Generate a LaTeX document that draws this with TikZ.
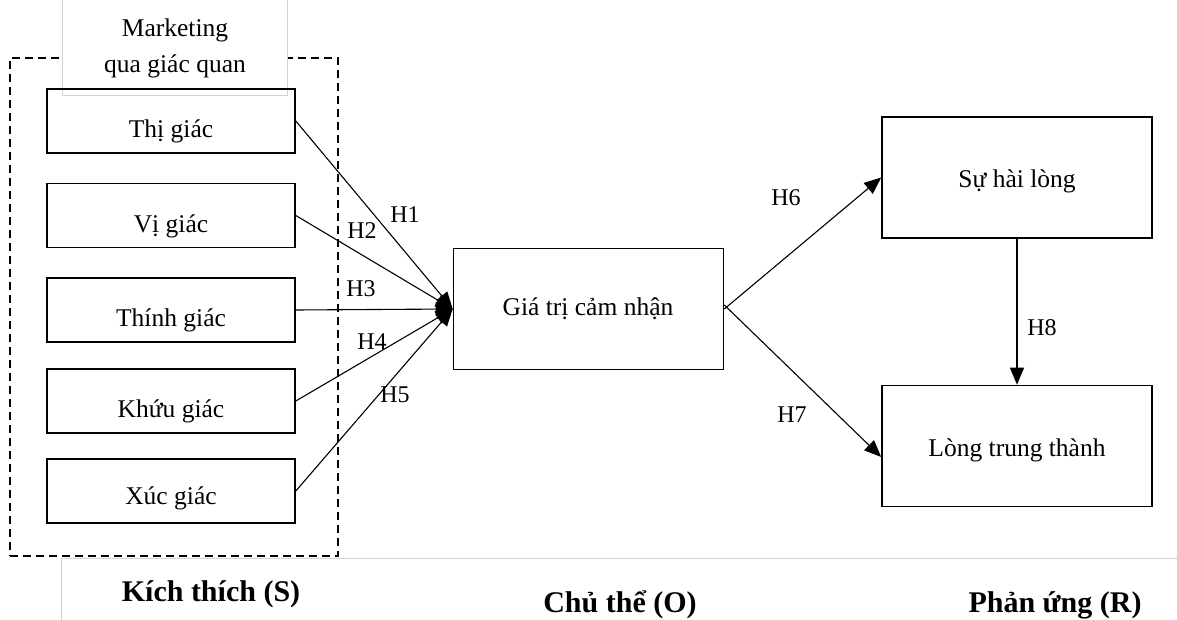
\documentclass[tikz,border=0pt]{standalone}
\usepackage{fontspec}
\setmainfont{Liberation Serif}
\usetikzlibrary{arrows.meta}
\tikzset{
  box/.style={draw, line width=1.6pt, inner sep=0pt},
  sense/.style={box, minimum width=248pt, minimum height=64pt},
  big/.style={box, minimum width=270pt, minimum height=121pt},
  txt/.style={inner sep=0pt, font=\fontsize{25.5}{36}\selectfont},
  hyp/.style={inner sep=0pt, font=\fontsize{24}{28}\selectfont},
  head/.style={inner sep=0pt, font=\fontsize{30}{34}\selectfont\bfseries},
  link/.style={line width=1.1pt, -{Triangle[length=17pt,width=14pt]}},
  frame/.style={draw, dashed, dash pattern=on 8pt off 5pt, line width=1.4pt, inner sep=0pt},
  faint/.style={draw=black!18, line width=0.8pt}
}
\begin{document}
\begin{tikzpicture}[x=1pt,y=-1pt]
\useasboundingbox[fill=white] (0,0) rectangle (1177,620);

% group of sensory stimuli
\node[frame, minimum width=328pt, minimum height=498pt] (grp) at (174,307) {};

% caption box of the group
\node[faint, fill=white, minimum width=225pt, minimum height=100pt, inner sep=0pt] (cap) at (174.5,45) {};
\node[txt, align=center] (captxt) at (175,48) {Marketing\\qua giác quan};

% senses
\node[sense] (thi)   at (171,121) {};
\node[sense] (vi)    at (171,215.5) {};
\node[sense] (thinh) at (171,310) {};
\node[sense] (khuu)  at (171,401) {};
\node[sense] (xuc)   at (171,491) {};
\node[txt] (thit)   at (171,131) {Thị giác};
\node[txt] (vit)    at (171,226) {Vị giác};
\node[txt] (thinht) at (171,320) {Thính giác};
\node[txt] (khuut)  at (171,411) {Khứu giác};
\node[txt] (xuct)   at (171,498) {Xúc giác};

% organism and responses
\node[big] (gt) at (588.5,309) {};
\node[txt] (gtt) at (588,309) {Giá trị cảm nhận};
\node[big] (sh) at (1017,177.5) {};
\node[txt] (sht) at (1017,181) {Sự hài lòng};
\node[big] (lt) at (1017,446) {};
\node[txt] (ltt) at (1017,450) {Lòng trung thành};

% hypotheses
\draw[link] (thi.east)   -- (gt.west);
\draw[link] (vi.east)    -- (gt.west);
\draw[link] (thinh.east) -- (gt.west);
\draw[link] (khuu.east)  -- (gt.west);
\draw[link] (xuc.east)   -- (gt.west);
\draw[link] (gt.east) -- (sh.west);
\draw[link] ([yshift=4pt]gt.east) -- ([yshift=-11pt]lt.west);
\draw[link] (sh.south) -- (lt.north);

\node[hyp] (h1) at (405,215) {H1};
\node[hyp] (h2) at (362,231) {H2};
\node[hyp] (h3) at (361,289) {H3};
\node[hyp] (h4) at (372,342) {H4};
\node[hyp] (h5) at (395,395) {H5};
\node[hyp] (h6) at (786,198) {H6};
\node[hyp] (h7) at (792,415) {H7};
\node[hyp] (h8) at (1042,328) {H8};

% stage headings
\draw[faint] (61,620) -- (61,558) -- (1177,558);
\node[head] (s) at (211,594) {Kích thích (S)};
\node[head] (o) at (620,605) {Chủ thể (O)};
\node[head] (r) at (1055,605) {Phản ứng (R)};
\end{tikzpicture}
\end{document}
